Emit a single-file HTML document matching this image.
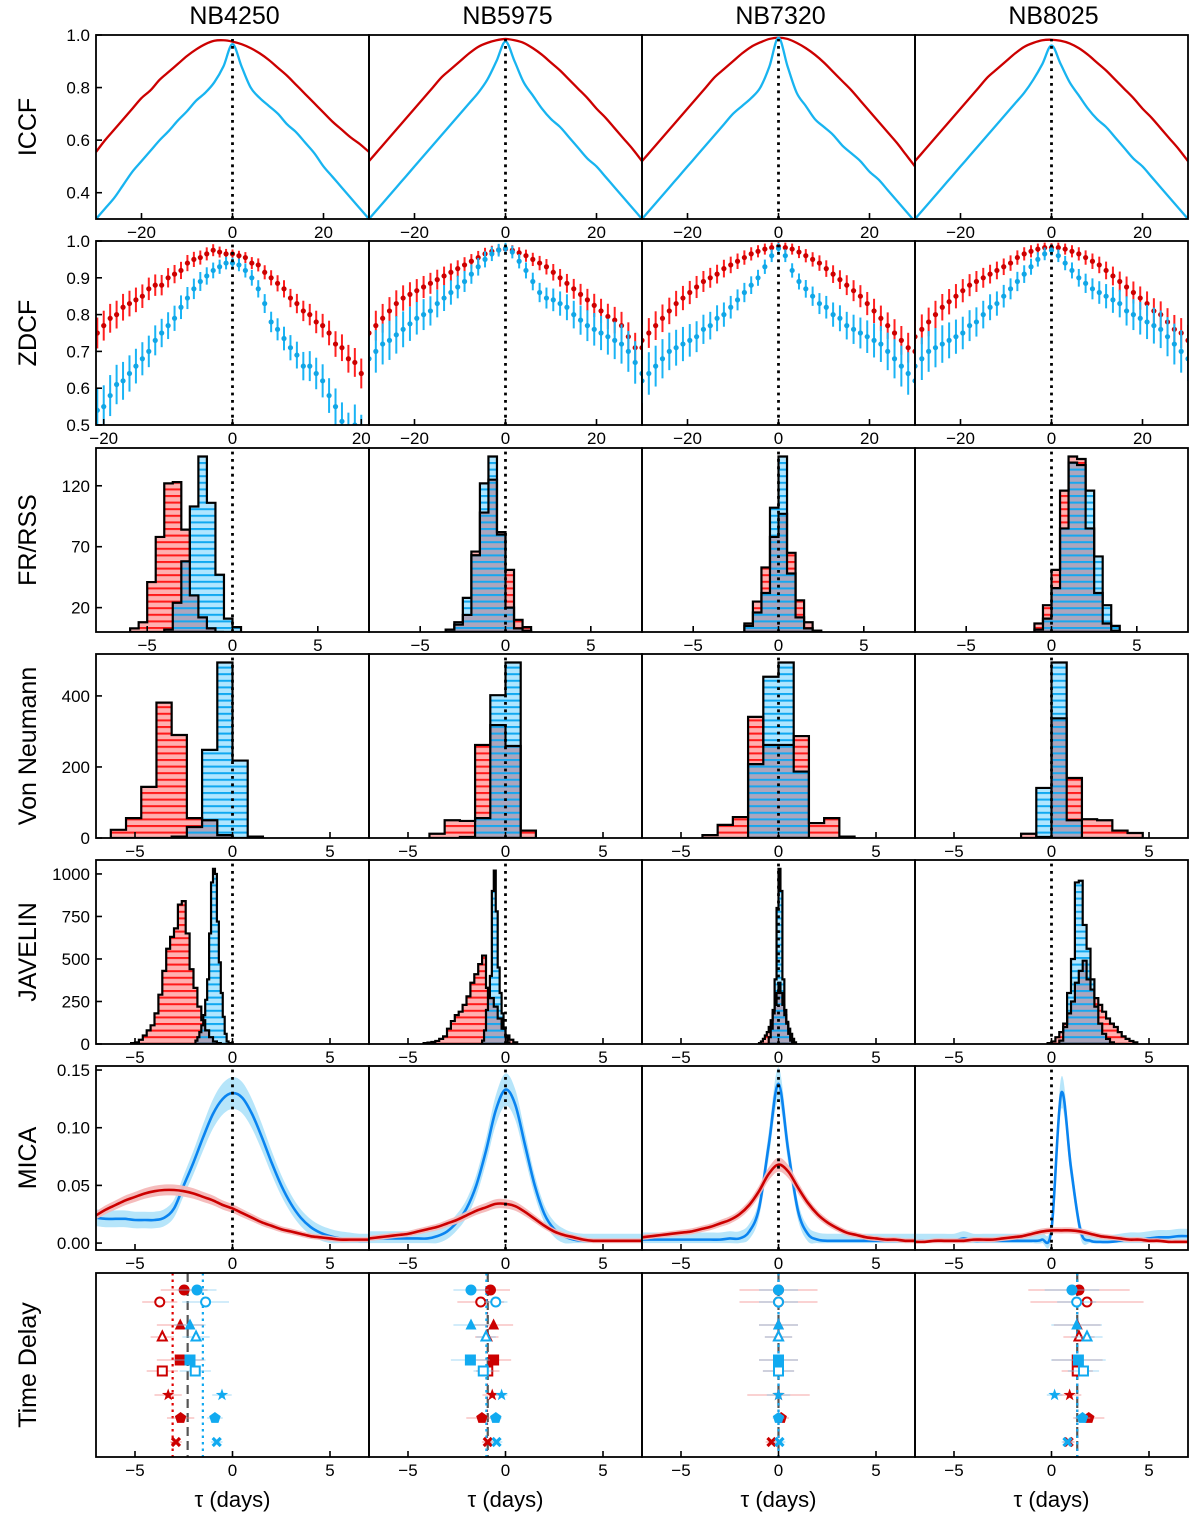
<!DOCTYPE html>
<html><head><meta charset="utf-8"><title>Lag comparison</title>
<style>
html,body{margin:0;padding:0;background:#fff;}
svg{display:block;font-family:"Liberation Sans","DejaVu Sans",sans-serif;}
</style></head>
<body>
<svg id="fig" width="1200" height="1520" viewBox="0 0 1200 1520" xmlns="http://www.w3.org/2000/svg">
<defs>
<pattern id="pr" width="8" height="6.6" patternUnits="userSpaceOnUse"><rect width="8" height="6.6" fill="#ffb0b0"/><rect width="8" height="2" fill="#ff1a1a"/></pattern>
<pattern id="pb" width="8" height="6.6" patternUnits="userSpaceOnUse"><rect width="8" height="6.6" fill="#b0e6ff"/><rect width="8" height="2" fill="#10a8f0"/></pattern>
<pattern id="pp" width="8" height="6.6" patternUnits="userSpaceOnUse"><rect width="8" height="6.6" fill="#aba6bd"/><rect width="8" height="2" fill="#18a6ee"/></pattern>
</defs>
</svg>
<script>
// ---------- DATA ----------
const bands = ["NB4250","NB5975","NB7320","NB8025"];
const rowLabels = ["ICCF","ZDCF","FR/RSS","Von Neumann","JAVELIN","MICA","Time Delay"];
const iccfLags = [-30,-28,-26,-24,-22,-20,-18,-16,-14,-12,-10,-8,-6,-4,-2,0,2,4,6,8,10,12,14,16,18,20,22,24,26,28,30];
const iccfRed = [
 [0.555,0.6,0.64,0.68,0.72,0.76,0.79,0.83,0.86,0.89,0.92,0.945,0.965,0.978,0.98,0.975,0.965,0.95,0.93,0.905,0.875,0.845,0.81,0.775,0.74,0.705,0.67,0.64,0.61,0.585,0.555],
 [0.52,0.56,0.6,0.64,0.68,0.72,0.76,0.8,0.84,0.87,0.9,0.93,0.955,0.97,0.98,0.985,0.98,0.97,0.95,0.925,0.895,0.865,0.83,0.795,0.76,0.72,0.685,0.645,0.605,0.565,0.52],
 [0.52,0.56,0.6,0.64,0.68,0.72,0.76,0.8,0.84,0.87,0.9,0.93,0.955,0.972,0.985,0.99,0.985,0.97,0.95,0.925,0.895,0.86,0.825,0.79,0.75,0.71,0.67,0.63,0.59,0.545,0.5],
 [0.52,0.56,0.6,0.64,0.68,0.72,0.76,0.8,0.84,0.87,0.9,0.93,0.955,0.97,0.98,0.982,0.978,0.968,0.95,0.925,0.895,0.865,0.83,0.795,0.76,0.72,0.685,0.645,0.605,0.565,0.52]];
const iccfBlue = [
 [0.3,0.34,0.38,0.43,0.48,0.52,0.56,0.6,0.635,0.675,0.71,0.75,0.78,0.82,0.88,0.965,0.88,0.8,0.76,0.73,0.7,0.66,0.63,0.59,0.55,0.5,0.46,0.42,0.38,0.34,0.3],
 [0.3,0.34,0.38,0.42,0.46,0.5,0.54,0.58,0.62,0.66,0.7,0.74,0.78,0.83,0.9,0.975,0.9,0.82,0.77,0.72,0.68,0.65,0.61,0.57,0.53,0.5,0.46,0.42,0.38,0.34,0.3],
 [0.3,0.34,0.38,0.42,0.46,0.5,0.54,0.58,0.62,0.66,0.7,0.73,0.76,0.8,0.88,0.99,0.88,0.78,0.73,0.68,0.65,0.62,0.58,0.55,0.52,0.48,0.45,0.41,0.37,0.33,0.29],
 [0.3,0.34,0.38,0.42,0.46,0.5,0.54,0.58,0.62,0.66,0.7,0.74,0.78,0.83,0.89,0.96,0.89,0.82,0.77,0.72,0.68,0.65,0.61,0.57,0.53,0.5,0.46,0.42,0.38,0.34,0.3]];
const zdcfLags1 = [-21,-20,-19,-18,-17,-16,-15,-14,-13,-12,-11,-10,-9,-8,-7,-6,-5,-4,-3,-2,-1,0,1,2,3,4,5,6,7,8,9,10,11,12,13,14,15,16,17,18,19,20];
const zdcfLags = [-30,-28.5,-27,-25.5,-24,-22.5,-21,-19.5,-18,-16.5,-15,-13.5,-12,-10.5,-9,-7.5,-6,-4.5,-3,-1.5,0,1.5,3,4.5,6,7.5,9,10.5,12,13.5,15,16.5,18,19.5,21,22.5,24,25.5,27,28.5,30];
const zdcfRed = [
 [0.75,0.77,0.79,0.8,0.82,0.83,0.84,0.85,0.87,0.88,0.88,0.9,0.91,0.92,0.94,0.95,0.955,0.965,0.975,0.97,0.965,0.965,0.96,0.955,0.94,0.935,0.915,0.9,0.885,0.87,0.845,0.83,0.81,0.8,0.78,0.77,0.75,0.72,0.71,0.68,0.67,0.64],
 [0.75,0.77,0.79,0.81,0.83,0.845,0.855,0.865,0.875,0.885,0.895,0.905,0.915,0.925,0.935,0.945,0.955,0.965,0.972,0.976,0.978,0.975,0.968,0.96,0.95,0.94,0.93,0.915,0.9,0.885,0.87,0.855,0.84,0.825,0.81,0.795,0.785,0.77,0.74,0.71,0.71],
 [0.73,0.75,0.77,0.79,0.81,0.83,0.845,0.86,0.875,0.89,0.9,0.91,0.925,0.935,0.945,0.955,0.965,0.972,0.978,0.982,0.985,0.982,0.978,0.97,0.96,0.95,0.94,0.925,0.91,0.895,0.88,0.865,0.85,0.83,0.81,0.79,0.77,0.75,0.73,0.71,0.7],
 [0.74,0.76,0.78,0.8,0.82,0.835,0.85,0.865,0.88,0.89,0.9,0.91,0.92,0.93,0.94,0.955,0.965,0.972,0.978,0.982,0.982,0.982,0.978,0.972,0.965,0.955,0.945,0.935,0.92,0.905,0.89,0.875,0.86,0.845,0.83,0.81,0.8,0.78,0.76,0.75,0.73]];
const zdcfBlue = [
 [0.54,0.55,0.58,0.61,0.62,0.64,0.66,0.68,0.7,0.73,0.75,0.77,0.79,0.82,0.845,0.87,0.89,0.905,0.92,0.93,0.94,0.94,0.935,0.92,0.9,0.87,0.83,0.78,0.76,0.735,0.71,0.69,0.66,0.66,0.64,0.62,0.58,0.55,0.51,0.48,0.5,0.47],
 [0.68,0.7,0.72,0.73,0.745,0.76,0.775,0.79,0.8,0.81,0.83,0.845,0.86,0.875,0.89,0.91,0.93,0.95,0.965,0.975,0.98,0.97,0.945,0.92,0.89,0.86,0.845,0.84,0.83,0.82,0.8,0.785,0.77,0.76,0.75,0.74,0.73,0.72,0.7,0.67,0.64],
 [0.62,0.64,0.66,0.68,0.7,0.71,0.72,0.73,0.74,0.76,0.77,0.79,0.8,0.82,0.84,0.86,0.88,0.9,0.93,0.96,0.98,0.96,0.92,0.89,0.87,0.85,0.83,0.82,0.8,0.79,0.77,0.76,0.75,0.74,0.73,0.72,0.7,0.68,0.66,0.64,0.62],
 [0.66,0.68,0.7,0.71,0.72,0.73,0.74,0.75,0.77,0.78,0.8,0.82,0.83,0.85,0.87,0.89,0.91,0.93,0.95,0.965,0.975,0.96,0.94,0.92,0.9,0.885,0.87,0.86,0.85,0.84,0.83,0.81,0.8,0.79,0.78,0.77,0.76,0.74,0.72,0.7,0.68]];
const frRedStart = [-6,-3.5,-2,-1];
const frRed = [[3,8,41,78,122,123,84,30,12,3,0],[2,6,14,66,98,125,82,51,10,4],[7,25,53,78,97,65,26,8,1],[7,22,51,116,144,142,85,32,7,1]];
const frBlueStart = [-4,-3.5,-2,-1];
const frBlue = [[2,24,58,103,144,106,47,11,4],[2,8,28,63,122,144,80,20,3,1],[5,16,32,102,144,48,12,3,1],[2,11,36,85,139,137,116,62,22,5]];
const vnRedStart = [-6.24,-3.9,-3.9,-1.56];
const vnRed = [[23,56,144,381,290,56,50,8],[12,50,48,262,318,259,21],[8,37,59,341,262,262,287,42,56,4],[12,3,337,169,53,50,21,14]];
const vnBlueStart = [-3.12,-2.34,-1.56,-0.78];
const vnBlue = [[4,31,248,494,218,4],[3,56,402,494],[208,454,494,187],[141,494,50]];
const javRedStart = [-5.2,-4.2,-1.0,-0.2];
const javRedWidth = [0.2,0.2,0.1,0.2];
const javRed = [[5,10,25,50,80,110,180,290,430,560,630,680,820,840,650,440,330,220,140,80,40,15,5],
 [5,8,12,18,30,45,90,135,170,190,230,280,360,410,470,520,330,270,220,150,90,50,25,10],
 [5,15,30,50,70,100,140,180,230,300,360,300,230,170,130,90,60,30,10],
 [5,15,40,70,120,180,250,360,430,490,380,320,270,230,190,150,120,100,70,45,30,18,10]];
const javBlueStart = [-1.9,-1.2,-0.5,0.4];
const javBlueWidth = [0.1,0.1,0.1,0.2];
const javBlue = [[20,40,70,110,170,260,380,650,950,1030,1000,720,480,300,160,60,15,5],
 [20,80,200,330,400,900,1020,780,450,300,180,90,40,10],
 [40,90,200,380,800,1030,900,380,200,120,60,20,5],
 [20,100,300,500,950,960,700,560,380,220,120,60,30,10]];
const micaLags = [-7,-6.5,-6,-5.5,-5,-4.5,-4,-3.5,-3,-2.5,-2,-1.5,-1,-0.5,0,0.5,1,1.5,2,2.5,3,3.5,4,4.5,5,5.5,6,6.5,7];
const micaBlue = [
 [0.022,0.021,0.021,0.021,0.02,0.02,0.02,0.022,0.03,0.05,0.07,0.092,0.112,0.125,0.13,0.126,0.112,0.092,0.07,0.05,0.034,0.022,0.014,0.009,0.006,0.004,0.003,0.002,0.002],
 [0.004,0.004,0.004,0.004,0.004,0.004,0.004,0.006,0.01,0.018,0.03,0.05,0.08,0.115,0.133,0.12,0.085,0.05,0.025,0.012,0.006,0.003,0.002,0.002,0.002,0.002,0.002,0.002,0.002],
 [0.003,0.003,0.003,0.003,0.003,0.003,0.003,0.003,0.003,0.004,0.004,0.01,0.03,0.085,0.138,0.08,0.028,0.008,0.003,0.002,0.002,0.002,0.002,0.002,0.002,0.002,0.002,0.002,0.002],
 [0.002,0.002,0.002,0.002,0.002,0.004,0.002,0.002,0.002,0.002,0.002,0.002,0.002,0.003,0.012,0.13,0.065,0.01,0.002,0.001,0.001,0.002,0.003,0.003,0.004,0.005,0.005,0.006,0.006]];
const micaRed = [
 [0.024,0.029,0.033,0.037,0.04,0.043,0.045,0.046,0.046,0.045,0.043,0.04,0.037,0.033,0.03,0.026,0.022,0.018,0.015,0.012,0.01,0.008,0.006,0.005,0.004,0.003,0.003,0.003,0.003],
 [0.004,0.005,0.006,0.007,0.008,0.01,0.012,0.014,0.017,0.02,0.024,0.028,0.031,0.034,0.034,0.032,0.027,0.021,0.015,0.01,0.007,0.005,0.003,0.002,0.002,0.002,0.002,0.002,0.002],
 [0.005,0.006,0.007,0.008,0.009,0.01,0.012,0.014,0.017,0.02,0.025,0.033,0.045,0.06,0.068,0.062,0.048,0.035,0.025,0.018,0.013,0.009,0.007,0.005,0.004,0.003,0.003,0.002,0.002],
 [0.001,0.001,0.002,0.002,0.002,0.002,0.003,0.003,0.003,0.004,0.005,0.006,0.008,0.01,0.011,0.011,0.011,0.01,0.008,0.006,0.005,0.004,0.003,0.003,0.002,0.002,0.001,0.001,0.001]];
const tdShapes = ["circle","ocircle","tri","otri","square","osquare","star","pent","x"];
const tdRed = [[-2.48,-3.73,-2.68,-3.6,-2.68,-3.6,-3.3,-2.66,-2.9],[-0.77,-1.27,-0.61,-0.96,-0.61,-0.91,-0.68,-1.21,-0.91],[0,0,0,0,0,0,0,0.14,-0.36],[1.41,1.82,1.32,1.41,1.32,1.32,0.93,1.91,0.88]];
const tdBlue = [[-1.82,-1.38,-2.18,-1.87,-2.18,-1.91,-0.54,-0.9,-0.81],[-1.77,-0.5,-1.77,-1.0,-1.8,-1.14,-0.2,-0.5,-0.46],[0,0,0,0,0,0,0,0,0.05],[1.05,1.29,1.29,1.82,1.38,1.64,0.16,1.59,0.82]];
const tdRedErr = [[1.2,0.9,1.2,0.6,1.2,0.8,0.7,0.7,0.3],[1.0,1.2,1.0,0.6,0.9,0.6,0.5,0.8,0.3],[2.0,2.0,1.0,0.7,1.0,0.8,1.6,0.4,0.3],[2.6,2.9,1.2,0.8,1.3,0.8,0.6,0.8,0.3]];
const tdBlueErr = [[1.0,1.2,0.8,0.7,0.8,0.8,0.5,0.4,0.3],[0.9,0.6,0.9,0.5,1.0,0.5,0.3,0.3,0.3],[1.0,1.0,1.0,0.7,1.0,0.8,0.6,0.3,0.3],[1.4,1.0,1.3,0.8,1.4,0.8,0.4,0.4,0.3]];
const tdMeanRed = [-3.07,-0.95,0,1.32];
const tdMean = [-2.3,-0.91,0,1.32];
const tdMeanBlue = [-1.52,-0.98,0,1.32];

// ---------- LAYOUT ----------
const NS="http://www.w3.org/2000/svg";
const svg=document.getElementById('fig');
const L=[96,369,642,915], W=273, T=[35,241,448,654,860,1066,1273], H=184;
const RED="#cc0000";
function xdom(r,c){ if(r===0) return [-30,30]; if(r===1) return c===0?[-21.2,21.2]:[-30,30]; if(r===2) return [-8,8]; return [-7,7]; }
const ydom=[[0.3,1.0],[0.5,1.0],[0,151],[0,518],[0,1082],[-0.006,0.1535],[0,184]];
function sx(r,c,v){const d=xdom(r,c);return L[c]+(v-d[0])/(d[1]-d[0])*W;}
function sy(r,v){const d=ydom[r];return T[r]+H-(v-d[0])/(d[1]-d[0])*H;}
function el(tag,attrs,parent){const e=document.createElementNS(NS,tag);for(const k in attrs)e.setAttribute(k,attrs[k]);(parent||svg).appendChild(e);return e;}
function fmtMinus(s){return String(s).replace('-','\u2212');}
const defs=svg.querySelector('defs');
let clipCount=0;

function smoothPath(pts){
  let d="M"+pts[0][0].toFixed(2)+","+pts[0][1].toFixed(2);
  for(let i=0;i<pts.length-1;i++){
    const p0=pts[Math.max(0,i-1)],p1=pts[i],p2=pts[i+1],p3=pts[Math.min(pts.length-1,i+2)];
    const c1=[p1[0]+(p2[0]-p0[0])/6,p1[1]+(p2[1]-p0[1])/6],c2=[p2[0]-(p3[0]-p1[0])/6,p2[1]-(p3[1]-p1[1])/6];
    d+="C"+c1[0].toFixed(2)+","+c1[1].toFixed(2)+" "+c2[0].toFixed(2)+","+c2[1].toFixed(2)+" "+p2[0].toFixed(2)+","+p2[1].toFixed(2);
  }
  return d;
}
function histPath(r,c,start,w,vals){
  const base=T[r]+H;
  let d="M"+sx(r,c,start).toFixed(2)+","+base;
  vals.forEach((v,i)=>{const x0=sx(r,c,start+i*w),x1=sx(r,c,start+(i+1)*w),y=sy(r,v);d+="L"+x0.toFixed(2)+","+y.toFixed(2)+"L"+x1.toFixed(2)+","+y.toFixed(2);});
  d+="L"+sx(r,c,start+vals.length*w).toFixed(2)+","+base+"Z";
  return d;
}
function drawHist(g,r,c,rs,rw,rv,bs,bw,bv,name){
  const rd=histPath(r,c,rs,rw,rv), bd=histPath(r,c,bs,bw,bv);
  const pr=el('path',{d:rd,fill:'url(#pr)',stroke:'none'},g);
  
  
  const pb=el('path',{d:bd,fill:'url(#pb)',stroke:'none'},g);
  
  
  const id='ov'+(clipCount++);
  const cp=el('clipPath',{id},defs);el('path',{d:rd},cp);
  el('path',{d:bd,fill:'url(#pp)',stroke:'none','clip-path':`url(#${id})`},g);
  el('path',{d:rd,fill:'none',stroke:'#000','stroke-width':2.2},g);
  el('path',{d:bd,fill:'none',stroke:'#000','stroke-width':2.2},g);
}
function marker(g,shape,cx,cy,color){
  const s=5.5;
  let e;
  if(shape==="circle") e=el('circle',{cx,cy,r:s,fill:color},g);
  else if(shape==="ocircle") e=el('circle',{cx,cy,r:s-1,fill:'#fff',stroke:color,'stroke-width':2},g);
  else if(shape==="tri"||shape==="otri"){
    const t=shape==="tri"?s:4.5;
    const p=`${cx},${cy-t-1} ${cx+t},${cy+t-1} ${cx-t},${cy+t-1}`;
    e=shape==="tri"?el('polygon',{points:p,fill:color},g):el('polygon',{points:p,fill:'#fff',stroke:color,'stroke-width':2},g);
  } else if(shape==="square") e=el('rect',{x:cx-s,y:cy-s,width:2*s,height:2*s,fill:color},g);
  else if(shape==="osquare") e=el('rect',{x:cx-s+1,y:cy-s+1,width:2*s-2,height:2*s-2,fill:'#fff',stroke:color,'stroke-width':2},g);
  else if(shape==="star"){
    let p=[];for(let i=0;i<10;i++){const a=-Math.PI/2+i*Math.PI/5,rr=i%2?2.6:6.5;p.push((cx+rr*Math.cos(a)).toFixed(1)+","+(cy+rr*Math.sin(a)).toFixed(1));}
    e=el('polygon',{points:p.join(' '),fill:color},g);
  } else if(shape==="pent"){
    let p=[];for(let i=0;i<5;i++){const a=-Math.PI/2+i*2*Math.PI/5;p.push((cx+6*Math.cos(a)).toFixed(1)+","+(cy+6*Math.sin(a)).toFixed(1));}
    e=el('polygon',{points:p.join(' '),fill:color},g);
  } else {
    e=el('path',{d:`M${cx-4},${cy-4}L${cx+4},${cy+4}M${cx+4},${cy-4}L${cx-4},${cy+4}`,stroke:color,'stroke-width':3.2,fill:'none'},g);
  }
  return e;
}

bands.forEach((b,c)=>{
  const t=el('text',{x:L[c]+W/2+2,y:24,'text-anchor':'middle','font-size':25,fill:'#000'});
  t.textContent=b;
  
  
});
rowLabels.forEach((lab,r)=>{
  const cy=T[r]+H/2;
  const t=el('text',{x:0,y:0,transform:`translate(36,${cy}) rotate(-90)`,'text-anchor':'middle','font-size':25,fill:'#000'});
  t.textContent=lab;
  
  
});

const xticks=[[-20,0,20],[-20,0,20],[-5,0,5],[-5,0,5],[-5,0,5],[-5,0,5],[-5,0,5]];
const yticks=[[0.4,0.6,0.8,1.0],[0.5,0.6,0.7,0.8,0.9,1.0],[20,70,120],[0,200,400],[0,250,500,750,1000],[0,0.05,0.1,0.15],[]];
const ytickLab=[["0.4","0.6","0.8","1.0"],["0.5","0.6","0.7","0.8","0.9","1.0"],["20","70","120"],["0","200","400"],["0","250","500","750","1000"],["0.00","0.05","0.10","0.15"],[]];
const tdSlots=[17,29,52,64,87,98,122,145,169];

for(let r=0;r<7;r++){
  for(let c=0;c<4;c++){
    const g=el('g',{});
    
    
    const cid=`clip-${r}-${c}`;
    const cp=el('clipPath',{id:cid},defs);el('rect',{x:L[c],y:T[r],width:W,height:H},cp);
    const pg=el('g',{'clip-path':`url(#${cid})`},g);
    if(r===0){
      [[iccfRed[c],RED],[iccfBlue[c],"#18b4f0"]].forEach(([arr,col],k)=>{
        const pts=iccfLags.map((l,i)=>[sx(r,c,l),sy(r,arr[i])]);
        const p=el('path',{d:smoothPath(pts),fill:'none',stroke:col,'stroke-width':2.3},pg);
        
        
      });
    } else if(r===1){
      const lags=c===0?zdcfLags1:zdcfLags;
      const range=c===0?21:30;
      [[zdcfRed[c],"#ff2020",RED,0.012,0.03],[zdcfBlue[c],"#1ab4f5","#11a6e6",0.015,0.045]].forEach(([arr,ecol,mcol,e0,e1],k)=>{
        const sg=el('g',{},pg);
        
        
        lags.forEach((l,i)=>{
          const x=sx(r,c,l),err=e0+e1*Math.abs(l)/range;
          el('line',{x1:x,x2:x,y1:sy(r,arr[i]-err),y2:sy(r,arr[i]+err),stroke:ecol,'stroke-width':2},sg);
          const m=el('circle',{cx:x,cy:sy(r,arr[i]),r:2.6,fill:mcol},sg);
          
          
        });
      });
    } else if(r===2){
      drawHist(pg,r,c,frRedStart[c],0.5,frRed[c],frBlueStart[c],0.5,frBlue[c],'frrss');
    } else if(r===3){
      drawHist(pg,r,c,vnRedStart[c],0.78,vnRed[c],vnBlueStart[c],0.78,vnBlue[c],'von-neumann');
    } else if(r===4){
      drawHist(pg,r,c,javRedStart[c],javRedWidth[c],javRed[c],javBlueStart[c],javBlueWidth[c],javBlue[c],'javelin');
    } else if(r===5){
      [[micaBlue[c],"#0a84f0","#b2e4fa",0.006,0.06],[micaRed[c],"#cc0000","#f4b8b8",0.002,0.06]].forEach(([arr,lc,bc,b0,b1],k)=>{
        const up=micaLags.map((l,i)=>[sx(r,c,l),sy(r,arr[i]+b0+b1*arr[i])]);
        const dn=micaLags.map((l,i)=>[sx(r,c,l),sy(r,Math.max(arr[i]-b0-b1*arr[i],0))]).reverse();
        const band=el('path',{d:smoothPath(up)+"L"+smoothPath(dn).slice(1)+"Z",fill:bc,stroke:'none',opacity:0.95},pg);
        
        
        const pts=micaLags.map((l,i)=>[sx(r,c,l),sy(r,arr[i])]);
        const ln=el('path',{d:smoothPath(pts),fill:'none',stroke:lc,'stroke-width':2.6},pg);
        
        
      });
    } else {
      [[tdMeanRed[c],"#e00000",'2.5,4'],[tdMean[c],"#555",'9,5'],[tdMeanBlue[c],"#10a8f0",'2.5,4']].forEach(([v,col,da],k)=>{
        const x=sx(r,c,v);
        const ln=el('line',{x1:x,x2:x,y1:T[r],y2:T[r]+H,stroke:col,'stroke-width':2.2,'stroke-dasharray':da},pg);
        
        
      });
      tdShapes.forEach((sh,i)=>{
        const y=T[r]+tdSlots[i];
        [[tdRed[c][i],tdRedErr[c][i],RED,"rgba(240,120,120,0.45)"],[tdBlue[c][i],tdBlueErr[c][i],"#11aaf0","rgba(120,200,240,0.45)"]].forEach(([v,e,col,ecol],k)=>{
          el('line',{x1:sx(r,c,v-e),x2:sx(r,c,v+e),y1:y,y2:y,stroke:ecol,'stroke-width':1.6},pg);
          const m=marker(pg,sh,sx(r,c,v),y,col);
          
          
        });
      });
    }
    if(r<6){
      const z=el('line',{x1:sx(r,c,0),x2:sx(r,c,0),y1:T[r]+H,y2:(r===0?T[r]+4:T[r]),stroke:'#000','stroke-width':2.8,'stroke-dasharray':'2.8,4.6'},pg);
      
      
    }
    const fr=el('rect',{x:L[c],y:T[r],width:W,height:H,fill:'none',stroke:'#000','stroke-width':1.8},g);
    
    
    xticks[r].forEach(v=>{
      const x=sx(r,c,v);
      el('line',{x1:x,x2:x,y1:T[r]+H,y2:T[r]+H-6,stroke:'#000','stroke-width':1.6},g);
      const t=el('text',{x:x,y:T[r]+H+19,'text-anchor':'middle','font-size':17,fill:'#000'});
      t.textContent=fmtMinus(v);
      
      
    });
    if(c===0){
      yticks[r].forEach((v,i)=>{
        const y=sy(r,v);
        el('line',{x1:L[c],x2:L[c]+6,y1:y,y2:y,stroke:'#000','stroke-width':1.6},g);
        const t=el('text',{x:L[c]-6,y:y+6,'text-anchor':'end','font-size':17,fill:'#000'});
        t.textContent=ytickLab[r][i];
        
        
      });
    }
  }
}
bands.forEach((b,c)=>{
  const t=el('text',{x:L[c]+W/2,y:1507,'text-anchor':'middle','font-size':22,fill:'#000'});
  t.textContent="\u03C4 (days)";
  
  
});
</script>
</body></html>
